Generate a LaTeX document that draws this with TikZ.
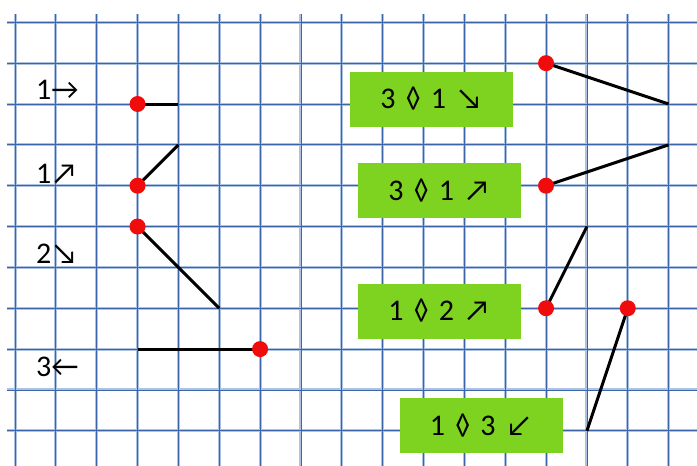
\documentclass[tikz,border=0pt]{standalone}
\usepackage{fontspec}
\setmainfont{Carlito}
\definecolor{gridlight}{RGB}{172,194,226}
\definecolor{griddark}{RGB}{60,100,168}
\definecolor{dotred}{RGB}{240,12,12}
\definecolor{cardgreen}{RGB}{126,211,33}
\begin{document}
\begin{tikzpicture}[x=1pt,y=-1pt,
  gridhalo/.style={line width=3pt, color=gridlight},
  gridcore/.style={line width=0.8pt, color=griddark},
  seg/.style={line width=3pt, black},
  dot/.style={circle, fill=dotred, inner sep=0pt, minimum size=16pt},
  lab/.style={font=\fontsize{30}{30}\selectfont, inner sep=0pt, anchor=base west},
  card/.style={fill=cardgreen, minimum width=163pt, minimum height=55pt, inner sep=0pt,
               font=\fontsize{30}{30}\selectfont}]
\useasboundingbox[fill=white] (0,0) rectangle (697,466);
% grid
\foreach \k in {0,...,16} {
  \draw[gridhalo] ({15+40.85*\k},14) -- ({15+40.85*\k},466);
}
\foreach \r in {0,...,10} {
  \draw[gridhalo] (7,{22.3+40.85*\r}) -- (697,{22.3+40.85*\r});
}
\foreach \k in {0,...,16} {
  \draw[gridcore] ({15+40.85*\k},14) -- ({15+40.85*\k},466);
}
\foreach \r in {0,...,10} {
  \draw[gridcore] (7,{22.3+40.85*\r}) -- (697,{22.3+40.85*\r});
}
% left labels
\node[lab] (l1) at (36,99) {1→};
\node[lab] (l2) at (36,183) {1↗};
\node[lab] (l3) at (36,263) {2↘};
\node[lab] (l4) at (36,376) {3←};
% cards
\node[card] (c1) at (431.5,99) {3\hspace{10pt}◊\hspace{10pt}1\hspace{10pt}↘};
\node[card] (c2) at (439.5,190.5) {3\hspace{10pt}◊\hspace{10pt}1\hspace{10pt}↗};
\node[card] (c3) at (439.5,311) {1\hspace{10pt}◊\hspace{10pt}2\hspace{10pt}↗};
\node[card] (c4) at (481,425.5) {1\hspace{10pt}◊\hspace{10pt}3\hspace{10pt}↙};
% segment end points
\coordinate (a1e) at (178.4,104);
\coordinate (a2e) at (178.4,144.85);
\coordinate (a3e) at (219.25,308.25);
\coordinate (a4e) at (137.55,349.1);
\coordinate (b1e) at (668.6,104);
\coordinate (b2e) at (668.6,144.85);
\coordinate (b3e) at (586.9,226.55);
\coordinate (b4e) at (586.9,430.8);
% dot positions
\coordinate (a1p) at (137.55,104);
\coordinate (a2p) at (137.55,185.7);
\coordinate (a3p) at (137.55,226.55);
\coordinate (a4p) at (260.1,349.1);
\coordinate (b1p) at (546.05,63.15);
\coordinate (b2p) at (546.05,185.7);
\coordinate (b3p) at (546.05,308.25);
\coordinate (b4p) at (627.75,308.25);
% segments
\foreach \n in {a1,a2,a3,a4,b1,b2,b3,b4} {
  \draw[seg] (\n p) -- (\n e);
}
% dots
\foreach \n in {a1,a2,a3,a4,b1,b2,b3,b4} {
  \node[dot] (\n) at (\n p) {};
}
\end{tikzpicture}
\end{document}
